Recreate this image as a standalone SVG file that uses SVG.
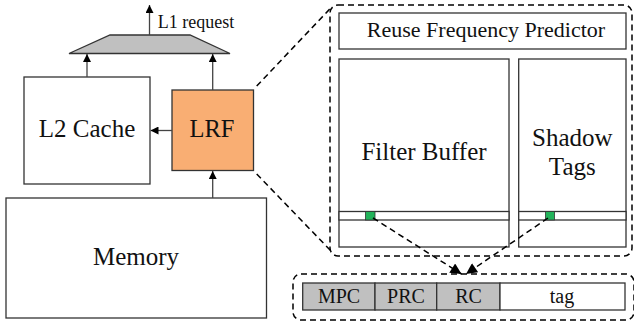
<svg xmlns="http://www.w3.org/2000/svg" width="634" height="326" viewBox="0 0 634 326" font-family="'Liberation Serif', 'Times New Roman', Times, 'DejaVu Serif', serif">
<style>
text{font-family:'Liberation Serif','Times New Roman',Times,'DejaVu Serif',serif;fill:#111;text-anchor:middle}
.box{fill:#fff;stroke:#333;stroke-width:1.3}
.gray{fill:#c0c0c0;stroke:#333;stroke-width:1.3}
.conn{stroke:#444;stroke-width:1.3;fill:none}
.dash{stroke:#000;stroke-width:1.5;fill:none;stroke-dasharray:6 4}
.green{fill:#22b35a;stroke:#333;stroke-width:0.8}
</style>
<defs>
<marker id="ah" viewBox="0 0 10 10" refX="10" refY="5" markerWidth="8" markerHeight="8" markerUnits="userSpaceOnUse" orient="auto"><path d="M0,0 L10,5 L0,10 Z" fill="#000"/></marker>
<marker id="ah2" viewBox="0 0 10 10" refX="10" refY="5" markerWidth="12" markerHeight="11" markerUnits="userSpaceOnUse" orient="auto"><path d="M0,0 L10,5 L0,10 Z" fill="#000"/></marker>
</defs>
<g id="mux"><polygon points="110,35 190,35 230,53.5 69,53.5" class="gray"/></g>
<g id="l2"><rect x="24" y="77" width="126" height="107" class="box"/><text x="87" y="137" font-size="25">L2 Cache</text></g>
<g id="lrf"><rect x="172" y="90" width="81.5" height="80.5" fill="#f9ae73" stroke="#333" stroke-width="1.3"/><text x="212" y="137" font-size="24.5">LRF</text></g>
<g id="memory"><rect x="6" y="198" width="260.5" height="120" class="box"/><text x="136" y="265" font-size="25">Memory</text></g>
<g id="rfp-container">
<rect x="330" y="5" width="302" height="251" rx="8" class="dash"/>
<g id="rfp"><rect x="339" y="13" width="287" height="36" class="box"/><text x="486" y="37" font-size="22">Reuse Frequency Predictor</text></g>
<g id="filter"><rect x="339" y="59" width="170" height="188" class="box"/><rect x="339" y="211.5" width="170" height="8.5" class="box"/><rect x="365.5" y="211.5" width="9.5" height="8.5" class="green"/><text x="424" y="160" font-size="25">Filter Buffer</text></g>
<g id="shadow"><rect x="518.7" y="59" width="107.3" height="188" class="box"/><rect x="518.7" y="211.5" width="107.3" height="8.5" class="box"/><rect x="545.5" y="211.5" width="9" height="8.5" class="green"/><text x="572.3" y="146" font-size="25">Shadow</text><text x="572.3" y="174.5" font-size="25">Tags</text></g>
</g>
<g id="entry">
<rect x="293" y="274" width="341" height="46" rx="8" class="dash"/>
<rect x="302.7" y="283" width="72.3" height="27" class="gray"/><text x="339" y="303" font-size="20">MPC</text>
<rect x="375" y="283" width="61.7" height="27" class="gray"/><text x="406" y="303" font-size="20">PRC</text>
<rect x="436.7" y="283" width="63.3" height="27" class="gray"/><text x="468.5" y="303" font-size="20">RC</text>
<rect x="500" y="283" width="125" height="27" class="box"/><text x="562" y="303" font-size="20">tag</text>
</g>
<g id="connectors">
<line x1="149.5" y1="35" x2="149.5" y2="5" class="conn" marker-end="url(#ah)"/>
<text x="196" y="28" font-size="18">L1 request</text>
<line x1="87" y1="77" x2="87" y2="54" class="conn" marker-end="url(#ah)"/>
<line x1="212.7" y1="90" x2="212.7" y2="54" class="conn" marker-end="url(#ah)"/>
<line x1="172" y1="130.5" x2="150.5" y2="130.5" class="conn" marker-end="url(#ah)"/>
<line x1="212.7" y1="198" x2="212.7" y2="171" class="conn" marker-end="url(#ah)"/>
<line x1="256.7" y1="86" x2="331.7" y2="7" class="dash"/>
<line x1="256.7" y1="174" x2="330.7" y2="250.7" class="dash"/>
<line x1="373" y1="218" x2="461.5" y2="274" class="dash" marker-end="url(#ah2)"/>
<line x1="548" y1="218" x2="466" y2="274" class="dash" marker-end="url(#ah2)"/>
</g>
</svg>
